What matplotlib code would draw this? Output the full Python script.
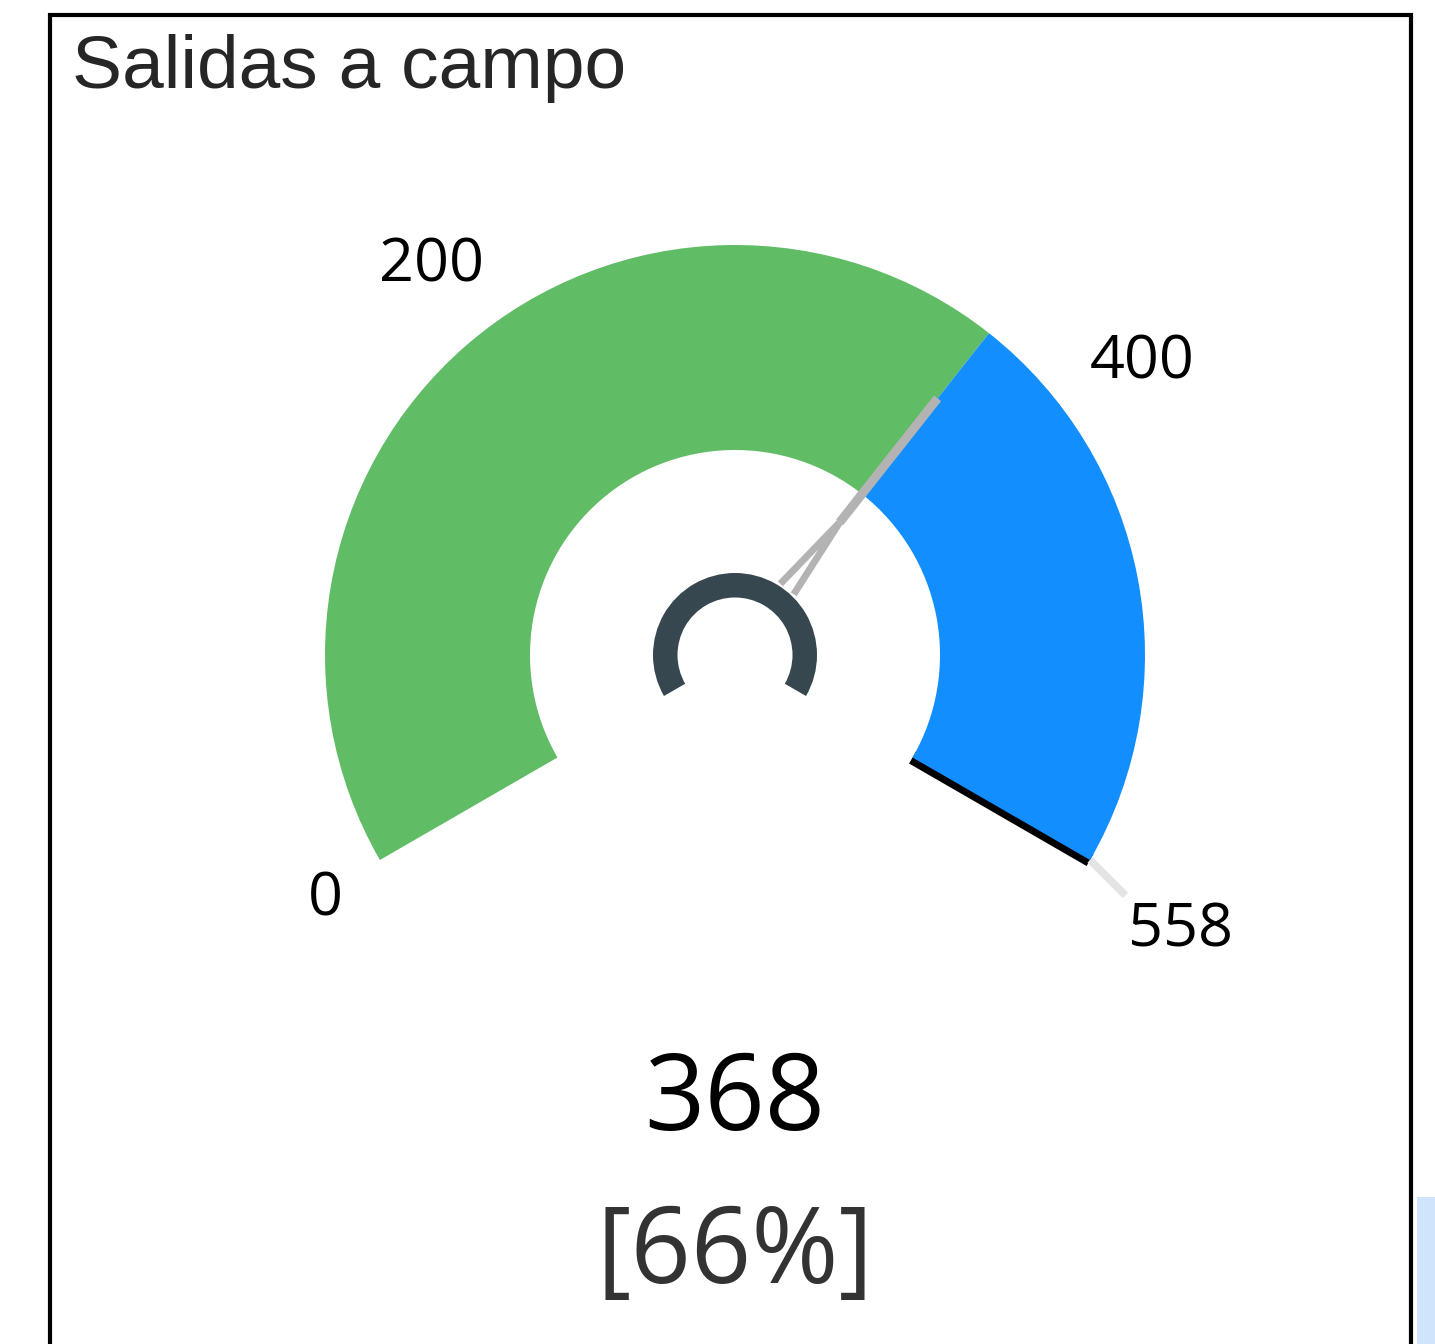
import numpy as np
import matplotlib.pyplot as plt
from matplotlib.patches import Wedge, Rectangle

# datos del indicador
title = "Salidas a campo"
value = 368
min_value = 0
max_value = 558
tick_values = [0, 200, 400, 558]
percent = round(100 * value / max_value)

GREEN = "#61bc66"
BLUE = "#138eff"
HUB = "#37474f"
NEEDLE = "#b3b3b3"

W, H = 1435, 1344
fig = plt.figure(figsize=(W / 100, H / 100), dpi=100)
ax = fig.add_axes([0, 0, 1, 1])
ax.set_xlim(0, W)
ax.set_ylim(0, H)
ax.axis("off")

cx, cy = 735, H - 655
r_out, r_in = 410, 205


def ang(v):
    # 0 abajo a la izquierda, maximo abajo a la derecha (240 grados)
    return 210 - 240 * (v - min_value) / (max_value - min_value)


def polar(r, a):
    t = np.radians(a)
    return cx + r * np.cos(t), cy + r * np.sin(t)


# marco
ax.add_patch(Rectangle((50, -20), 1361, H - 15 + 20, fill=False,
                       edgecolor="black", lw=3, zorder=1))
ax.add_patch(Rectangle((1417, 0), 30, H - 1197, facecolor="#d0e5fc",
                       edgecolor="none", zorder=1))

ax.text(72, H - 88, title, fontsize=54, family="Liberation Sans",
        color="#262626", ha="left", va="baseline")

# linea negra en el maximo (debajo del arco)
a_max = ang(max_value)
x0, y0 = polar(r_in, a_max)
x1, y1 = polar(r_out, a_max)
ax.plot([x0, x1], [y0, y1], color="black", lw=10, solid_capstyle="butt", zorder=2)
# linea guia hacia la etiqueta del maximo
lead = 50 / np.sqrt(2)
ax.plot([x1, x1 + lead], [y1, y1 - lead], color="#e4e4e4", lw=5.5,
        solid_capstyle="butt", zorder=2)

# arcos
a_val = ang(value)
ax.add_patch(Wedge((cx, cy), r_out, a_val, ang(min_value), width=r_out - r_in,
                   facecolor=GREEN, edgecolor="none", zorder=3))
ax.add_patch(Wedge((cx, cy), r_out, ang(max_value), a_val, width=r_out - r_in,
                   facecolor=BLUE, edgecolor="none", zorder=3))

# aguja
t = np.radians(a_val)
px, py = -np.sin(t), np.cos(t)
bx, by = polar(84, a_val)
jx, jy = polar(169, a_val)
tx, ty = polar(327, a_val)
for s in (-8.5, 8.5):
    ax.plot([bx + s * px, jx], [by + s * py, jy], color=NEEDLE, lw=5,
            solid_capstyle="butt", zorder=4)
ax.plot([jx, tx], [jy, ty], color=NEEDLE, lw=6.5, solid_capstyle="butt", zorder=4)

# centro
ax.add_patch(Wedge((cx, cy), 82, ang(max_value), ang(min_value), width=24.5,
                   facecolor=HUB, edgecolor="none", zorder=5))

# etiquetas de la escala
for v in tick_values:
    a = ang(v)
    if v == max_value:
        x, y = x1 + lead + 3, y1 - lead - 5
        ha, va = "left", "top"
    elif v == min_value:
        x, y = polar(r_out, a)
        x, y = x - 37, y - 9
        ha, va = "right", "top"
    else:
        x, y = polar(450, a)
        c = np.cos(np.radians(a))
        ha = "right" if c < -0.1 else ("left" if c > 0.1 else "center")
        va = "baseline"
    ax.text(x, y, f"{v}", fontsize=44, family="Open Sans", color="black",
            ha=ha, va=va, zorder=6)

ax.text(cx, H - 1130, f"{value}", fontsize=76, family="Open Sans",
        color="black", ha="center", va="baseline")
ax.text(cx, H - 1283, f"[{percent}%]", fontsize=76, family="Open Sans",
        color="#333333", ha="center", va="baseline")

fig.savefig("out.png", dpi=100)
